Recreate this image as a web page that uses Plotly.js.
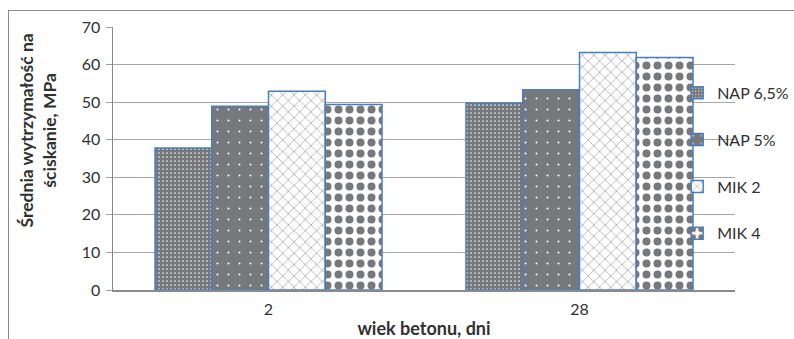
<!DOCTYPE html>
<html>
<head>
<meta charset="utf-8">
<script src="https://cdn.plot.ly/plotly-3.0.1.min.js"></script>
<style>
  html, body { margin: 0; padding: 0; background: #fff; }
  #wrap { position: relative; width: 794px; height: 339px; overflow: hidden; }
  #chart { position: absolute; left: 0; top: 0; width: 794px; height: 339px; }
  #frame { position: absolute; left: 8px; top: 10px; width: 800px; height: 340px;
           border: 1px solid #8c8c8c; pointer-events: none; }
</style>
</head>
<body>
<div id="wrap">
  <div id="frame"></div>
  <div id="chart"></div>
</div>
<script>
// Concrete age (days) on the x axis
const categories = ['2', '28'];

// Mean compressive strength, MPa
const nap65 = [37.8, 49.8];
const nap5  = [48.9, 53.3];
const mik2  = [52.9, 63.2];
const mik4  = [49.4, 61.9];

const seriesNames = ['NAP 6,5%', 'NAP 5%', 'MIK 2', 'MIK 4'];

const outline = { color: '#4a7ebb', width: 1.5 };
const gray = '#77787c';

const patterns = [
  { shape: '.', bgcolor: gray, fgcolor: '#ffffff', fgopacity: 0.9, size: 4, solidity: 0.14, fillmode: 'overlay' },
  { shape: '.', bgcolor: gray, fgcolor: '#ffffff', fgopacity: 1, size: 11, solidity: 0.025, fillmode: 'overlay' },
  { shape: 'x', bgcolor: '#ffffff', fgcolor: '#9a9a9a', fgopacity: 1, size: 8, solidity: 0.16, fillmode: 'overlay' },
  { shape: '.', bgcolor: '#ffffff', fgcolor: gray, fgopacity: 1, size: 11, solidity: 0.42, fillmode: 'overlay' }
];
const fills = [gray, gray, '#ffffff', '#ffffff'];
const values = [nap65, nap5, mik2, mik4];

const traces = values.map((v, i) => ({
  type: 'bar',
  name: seriesNames[i],
  x: categories,
  y: v,
  legendgroup: 'g' + i,
  marker: { color: fills[i], line: outline, pattern: patterns[i] },
  hoverinfo: 'x+y+name'
}));

const font = 'Lato, "Open Sans", sans-serif';
const ink = '#303030';

const layout = {
  width: 794,
  height: 339,
  margin: { l: 113, r: 59, t: 27, b: 49, autoexpand: false },
  paper_bgcolor: 'rgba(0,0,0,0)',
  plot_bgcolor: 'rgba(0,0,0,0)',
  font: { family: font, size: 16, color: ink },
  barmode: 'group',
  bargap: 0.27,
  bargroupgap: 0,
  showlegend: true,
  legend: {
    x: 0.907, xanchor: 'left',
    y: 0.814, yanchor: 'top',
    bgcolor: 'rgba(0,0,0,0)',
    borderwidth: 0,
    tracegroupgap: 23,
    font: { family: font, size: 16, color: ink }
  },
  xaxis: {
    type: 'category',
    showline: true,
    linecolor: '#8a8a8a',
    linewidth: 2,
    ticks: '',
    showgrid: false,
    ticklabelstandoff: 4,
    tickfont: { family: font, size: 16, color: ink },
    title: {
      text: '<b>wiek betonu, dni</b>',
      font: { family: font, size: 18, color: ink },
      standoff: 6
    }
  },
  yaxis: {
    range: [0, 70],
    dtick: 10,
    showline: true,
    linecolor: '#8a8a8a',
    linewidth: 1.5,
    ticks: 'outside',
    ticklen: 6,
    tickcolor: '#a0a0a0',
    gridcolor: '#a6a6a6',
    gridwidth: 1,
    zeroline: false,
    ticklabelstandoff: 2,
    tickfont: { family: font, size: 16, color: ink }
  },
  // Vertical axis title, set a little above the middle of the axis
  annotations: [{
    text: '<b>Średnia wytrzymałość na<br>ściskanie, MPa</b>',
    textangle: -90,
    xref: 'paper', yref: 'paper',
    x: -0.12, y: 0.608,
    xanchor: 'center', yanchor: 'middle',
    showarrow: false,
    align: 'center',
    font: { family: font, size: 17.5, color: ink }
  }]
};

Plotly.newPlot('chart', traces, layout, { displayModeBar: false, staticPlot: true });
</script>
</body>
</html>
